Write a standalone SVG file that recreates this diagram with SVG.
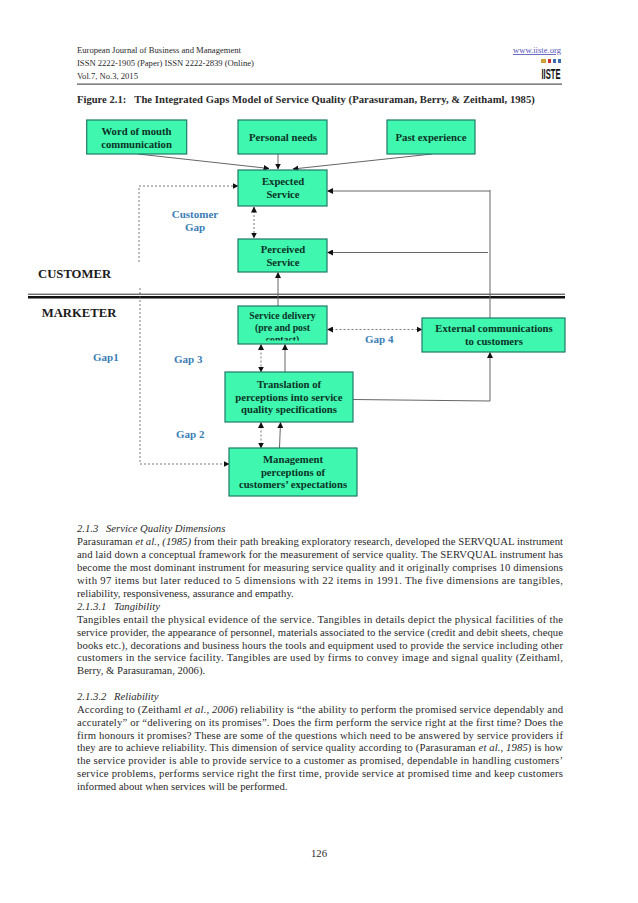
<svg xmlns="http://www.w3.org/2000/svg" width="638" height="903" viewBox="0 0 638 903">
<style>
text{font-family:"Liberation Serif","Times New Roman",serif;fill:#2a2a2a}
.h{font-size:8.6px}
.b{font-size:10.7px}
.i{font-style:italic}
.n{fill:#3ff7ae;stroke:#1f7a68;stroke-width:1.2}
.t{font-size:10.7px;font-weight:bold;text-anchor:middle;fill:#0c3327}
.u{font-size:9.75px}
.g{font-size:11px;font-weight:bold;fill:#3a7db5}
.k{font-size:12.7px;font-weight:bold;fill:#1a1a1a}
.c{fill:none;stroke:#666;stroke-width:1}
.s{marker-end:url(#a)}
.d{fill:none;stroke:#555;stroke-width:.8;stroke-dasharray:2 2}
.e{marker-end:url(#a);marker-start:url(#r)}
</style>
<defs>
<marker id="a" markerWidth="6" markerHeight="6" refX="5.5" refY="3" orient="auto" markerUnits="userSpaceOnUse"><path d="M0 0L6 3L0 6Z" fill="#111"/></marker>
<marker id="r" markerWidth="6" markerHeight="6" refX=".5" refY="3" orient="auto" markerUnits="userSpaceOnUse"><path d="M6 0L0 3L6 6Z" fill="#111"/></marker>
<clipPath id="sd"><rect x="238" y="306" width="89" height="34.500"/></clipPath>
</defs>
<rect width="638" height="903" fill="#fff"/>
<g id="header">
<text class="h" x="77" y="53">European Journal of Business and Management</text>
<text class="h" x="77" y="66">ISSN 2222-1905 (Paper) ISSN 2222-2839 (Online)</text>
<text class="h" x="77" y="79">Vol.7, No.3, 2015</text>
<text class="h" x="561" y="53" text-anchor="end" style="fill:#5555bb" text-decoration="underline">www.iiste.org</text>
<rect x="541" y="59" width="5" height="4" fill="#c9a23a"/><rect x="548" y="59" width="3" height="4" fill="#c33"/><rect x="553" y="59" width="3" height="4" fill="#3a6cb0"/><rect x="558" y="59" width="3" height="4" fill="#3a6cb0"/>
<text x="541.500" y="79" textLength="19" lengthAdjust="spacingAndGlyphs" style="font-family:'Liberation Sans',sans-serif;font-size:15px;font-weight:bold;fill:#111">IISTE</text>
<rect x="77" y="83.600" width="485" height="1" fill="#333"/>
<text x="77" y="103" style="font-size:10.600px;font-weight:bold">Figure 2.1:</text>
<text x="134.300" y="103" textLength="400.500" style="font-size:10.600px;font-weight:bold">The Integrated Gaps Model of Service Quality (Parasuraman, Berry, &amp; Zeithaml, 1985)</text>
</g>
<g id="divider">
<rect x="28" y="293.700" width="537" height="1" fill="#333"/>
<rect x="28" y="296" width="537" height="2.500" fill="#111"/>
</g>
<g id="connectors">
<path class="c s" d="M138 154L269 168.500"/>
<path class="c s" d="M278 154V169"/>
<path class="c s" d="M432 154L293 169"/>
<path class="d s" d="M139 262V186H238"/>
<path class="d e" d="M254 207V238"/>
<path class="c s" d="M490 191H327.500"/>
<path class="c" d="M490 190V318"/>
<path class="c s" d="M488 252.500H327.500"/>
<path class="c s" d="M278 306V272.500"/>
<path class="d s" d="M140 288V464H229"/>
<path class="d e" d="M327.500 329.500H422"/>
<path class="c s" d="M353 399.500L490 401V352.500"/>
<path class="d e" d="M261 344.500V372"/>
<path class="c s" d="M285 372V344.500"/>
<path class="d e" d="M261 422.500V448"/>
<path class="c s" d="M279.500 448L280.500 422.500"/>
</g>
<g id="word-of-mouth"><rect class="n" x="86.700" y="120" width="100" height="34"/><text class="t" x="136.500" y="135">Word of mouth</text><text class="t" x="136.500" y="147.500">communication</text></g>
<g id="personal-needs"><rect class="n" x="238" y="120" width="89" height="34"/><text class="t" x="283" y="141">Personal needs</text></g>
<g id="past-experience"><rect class="n" x="387" y="120" width="88" height="34"/><text class="t" x="431" y="141">Past experience</text></g>
<g id="expected"><rect class="n" x="238" y="170" width="89" height="36"/><text class="t" x="283" y="185">Expected</text><text class="t" x="283" y="198">Service</text></g>
<g id="perceived"><rect class="n" x="238" y="239" width="89" height="33"/><text class="t" x="283" y="253">Perceived</text><text class="t" x="283" y="266">Service</text></g>
<g id="service-delivery"><rect class="n" x="238" y="306" width="89" height="38"/><g clip-path="url(#sd)"><text class="t u" x="282.500" y="319.300">Service delivery</text><text class="t u" x="282.500" y="330.700">(pre and post</text><text class="t u" x="282.500" y="342.500">contact)</text></g></g>
<g id="external"><rect class="n" x="422" y="318" width="143" height="34"/><text class="t" x="494" y="332">External communications</text><text class="t" x="494" y="345">to customers</text></g>
<g id="translation"><rect class="n" x="225" y="372" width="128" height="50"/><text class="t" x="289" y="388">Translation of</text><text class="t" x="289" y="401">perceptions into service</text><text class="t" x="289" y="413">quality specifications</text></g>
<g id="management"><rect class="n" x="229" y="448" width="128" height="48"/><text class="t" x="293" y="463">Management</text><text class="t" x="293" y="476">perceptions of</text><text class="t" x="293" y="488">customers’ expectations</text></g>
<g id="labels">
<text class="g" x="195" y="218" text-anchor="middle">Customer</text><text class="g" x="195" y="231" text-anchor="middle">Gap</text>
<text class="k" x="38" y="278">CUSTOMER</text><text class="k" x="41.700" y="317">MARKETER</text>
<text class="g" x="93" y="361">Gap1</text><text class="g" x="174" y="363">Gap 3</text><text class="g" x="176" y="438">Gap 2</text><text class="g" x="365" y="343">Gap 4</text>
</g>
<g id="body">
<text class="b i" x="77" y="532">2.1.3</text><text class="b i" x="106" y="532">Service Quality Dimensions</text>
<text class="b" x="77" y="545" textLength="486">Parasuraman <tspan class="i">et al., (1985)</tspan> from their path breaking exploratory research, developed the SERVQUAL instrument</text>
<text class="b" x="77" y="558" textLength="486">and laid down a conceptual framework for the measurement of service quality. The SERVQUAL instrument has</text>
<text class="b" x="77" y="571" textLength="486">become the most dominant instrument for measuring service quality and it originally comprises 10 dimensions</text>
<text class="b" x="77" y="584" textLength="486">with 97 items but later reduced to 5 dimensions with 22 items in 1991. The five dimensions are tangibles,</text>
<text class="b" x="77" y="597">reliability, responsiveness, assurance and empathy.</text>
<text class="b i" x="77" y="609.500">2.1.3.1</text><text class="b i" x="114" y="609.500">Tangibility</text>
<text class="b" x="77" y="622.500" textLength="486">Tangibles entail the physical evidence of the service. Tangibles in details depict the physical facilities of the</text>
<text class="b" x="77" y="636" textLength="486">service provider, the appearance of personnel, materials associated to the service (credit and debit sheets, cheque</text>
<text class="b" x="77" y="648.500" textLength="486">books etc.), decorations and business hours the tools and equipment used to provide the service including other</text>
<text class="b" x="77" y="661" textLength="486">customers in the service facility. Tangibles are used by firms to convey image and signal quality (Zeithaml,</text>
<text class="b" x="77" y="674">Berry, &amp; Parasuraman, 2006).</text>
<text class="b i" x="77" y="699.500">2.1.3.2</text><text class="b i" x="114" y="699.500">Reliability</text>
<text class="b" x="77" y="713" textLength="486">According to (Zeithaml <tspan class="i">et al., 2006</tspan>) reliability is “the ability to perform the promised service dependably and</text>
<text class="b" x="77" y="726" textLength="486">accurately” or “delivering on its promises”. Does the firm perform the service right at the first time? Does the</text>
<text class="b" x="77" y="738.500" textLength="486">firm honours it promises? These are some of the questions which need to be answered by service providers if</text>
<text class="b" x="77" y="751" textLength="486">they are to achieve reliability. This dimension of service quality according to (Parasuraman <tspan class="i">et al., 1985</tspan>) is how</text>
<text class="b" x="77" y="764" textLength="486">the service provider is able to provide service to a customer as promised, dependable in handling customers’</text>
<text class="b" x="77" y="777" textLength="486">service problems, performs service right the first time, provide service at promised time and keep customers</text>
<text class="b" x="77" y="790">informed about when services will be performed.</text>
<text class="b" x="319" y="857" text-anchor="middle">126</text>
</g>
</svg>
